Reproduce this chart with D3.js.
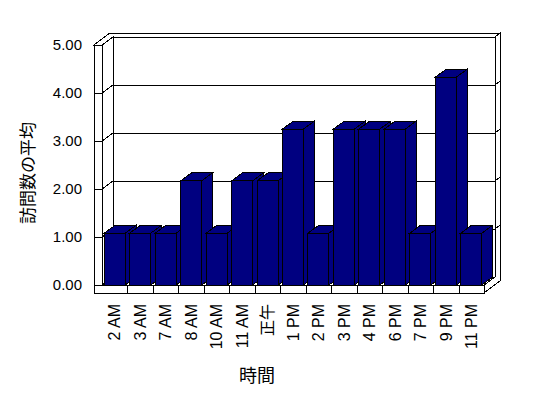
<!DOCTYPE html>
<html><head><meta charset="utf-8">
<script src="https://cdn.jsdelivr.net/npm/d3@7"></script>
<style>
body{margin:0;background:#fff;}
svg{display:block;}
text{font-family:"Liberation Sans","Noto Sans CJK JP",sans-serif;fill:#000;}
</style></head>
<body>
<svg id="chart" width="548" height="398"></svg>
<script>
const categories = ["2 AM","3 AM","7 AM","8 AM","10 AM","11 AM","正午","1 PM","2 PM","3 PM","4 PM","6 PM","7 PM","9 PM","11 PM"];
const values = [1.08,1.08,1.08,2.17,1.08,2.17,2.17,3.25,1.08,3.25,3.25,3.25,1.08,4.33,1.08];
const yTicks = [0,1,2,3,4,5];
const yTickLabels = ["0.00","1.00","2.00","3.00","4.00","5.00"];
const yTitle = "訪問数の平均";
const xTitle = "時間";

const svg = d3.select("#chart");
const x0 = 102, x1 = 484, yBase = 285, yTop = 45;
const D = [11,-8], O = [16,-12];
const y = d3.scaleLinear().domain([0,5]).range([yBase,yTop]);
const x = d3.scaleBand().domain(categories).range([x0,x1]).paddingInner(0.175).paddingOuter(0.0875);
const navy = "#000080";
const line = d3.line();
const g = svg.append("g").attr("shape-rendering","crispEdges");
function poly(pts, fill){
  g.append("path").attr("d", line(pts)+"Z").attr("fill",fill).attr("stroke","#000").attr("stroke-width",1);
}
function seg(a,b){
  g.append("line").attr("x1",a[0]).attr("y1",a[1]).attr("x2",b[0]).attr("y2",b[1]).attr("stroke","#000");
}
// back wall inner plane
poly([[x0+D[0],y(5)+D[1]],[x1+D[0],y(5)+D[1]],[x1+D[0],yBase+D[1]],[x0+D[0],yBase+D[1]]],"#fff");
yTicks.slice(1,5).forEach(v=>seg([x0+D[0],y(v)+D[1]],[x1+D[0],y(v)+D[1]]));
// right edge of back wall + floor side
poly([[x1,yBase],[x1+D[0],yBase+D[1]],[x1+D[0],y(5)+D[1]],[x1+O[0],y(5)+O[1]],[x1+O[0],yBase+8+O[1]],[x1,yBase+8]],"#fff");
yTicks.slice(1,5).forEach(v=>seg([x1+D[0],y(v)+D[1]],[x1+O[0],y(v)+O[1]]));
// top band
poly([[x0-8,y(5)],[x0-8+O[0],y(5)+O[1]],[x1+O[0],y(5)+O[1]],[x1+D[0],y(5)+D[1]],[x0+D[0],y(5)+D[1]],[x0,y(5)]],"#fff");
// left wall inner face
poly([[x0,y(5)],[x0+D[0],y(5)+D[1]],[x0+D[0],yBase+D[1]],[x0,yBase]],"#fff");
yTicks.slice(1,5).forEach(v=>seg([x0,y(v)],[x0+D[0],y(v)+D[1]]));
// floor top
poly([[x0,yBase],[x1,yBase],[x1+D[0],yBase+D[1]],[x0+D[0],yBase+D[1]]],"#fff");
// left wall front face + floor front face
poly([[x0-8,y(5)],[x0,y(5)],[x0,yBase],[x1,yBase],[x1,yBase+8],[x0-8,yBase+8]],"#fff");
yTicks.forEach(v=>seg([x0-8,y(v)],[x0,y(v)]));
// category separators
for(let k=1;k<categories.length;k++){
  const sx = Math.round(x0 + k*x.step());
  seg([sx,yBase],[sx,yBase+8]);
}
// bars
categories.forEach((c,i)=>{
  const bx = x(c), bw = x.bandwidth(), top = y(values[i]);
  poly([[bx+bw,top],[bx+bw+D[0],top+D[1]],[bx+bw+D[0],yBase+D[1]],[bx+bw,yBase]],navy);
  poly([[bx,top],[bx+D[0],top+D[1]],[bx+bw+D[0],top+D[1]],[bx+bw,top]],navy);
  poly([[bx,top],[bx+bw,top],[bx+bw,yBase],[bx,yBase]],navy);
});
// y tick labels
svg.selectAll(".yl").data(yTicks).enter().append("text")
  .attr("x",82).attr("y",d=>y(d)).attr("dy","0.36em").attr("text-anchor","end")
  .attr("font-size",15).text((d,i)=>yTickLabels[i]);
// x labels
svg.selectAll(".xl").data(categories).enter().append("text")
  .attr("transform",d=>`translate(${x(d)+x.bandwidth()/2},304) rotate(-90)`)
  .attr("dy","0.36em").attr("text-anchor","end").attr("font-size",16).text(d=>d);
// titles
svg.append("text").attr("transform","translate(28,173) rotate(-90)").attr("text-anchor","middle")
  .attr("dy","0.36em").attr("font-size",17).attr("font-family","Noto Sans CJK JP").text(yTitle);
svg.append("text").attr("x",257).attr("y",376).attr("text-anchor","middle").attr("dy","0.36em")
  .attr("font-size",18).attr("font-family","Noto Sans CJK JP").text(xTitle);
</script>
</body></html>
